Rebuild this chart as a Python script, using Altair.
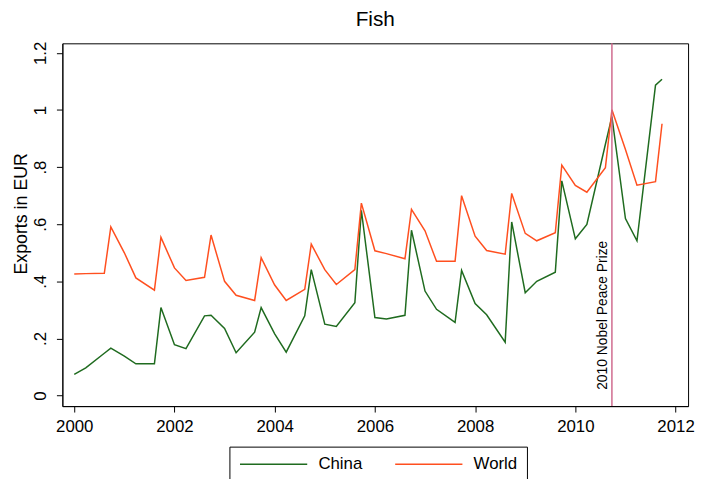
import altair as alt
import pandas as pd

# ---- data ----
years = list(range(2000, 2012))
quarter_offsets = [0.0, 0.23, 0.60, 0.73]  # position of the 4 observations inside each year

china = [
    0.074, 0.097, 0.148, 0.166,
    0.138, 0.111, 0.111, 0.308,
    0.178, 0.164, 0.279, 0.281,
    0.235, 0.150, 0.222, 0.308,
    0.216, 0.152, 0.279, 0.441,
    0.250, 0.242, 0.325, 0.649,
    0.273, 0.268, 0.281, 0.579,
    0.366, 0.302, 0.256, 0.438,
    0.322, 0.283, 0.187, 0.608,
    0.360, 0.400, 0.432, 0.752,
    0.549, 0.599, 0.880, 0.977,
    0.620, 0.542, 1.087, 1.108,
]

world = [
    0.426, 0.427, 0.428, 0.591,
    0.500, 0.412, 0.369, 0.554,
    0.447, 0.403, 0.414, 0.562,
    0.400, 0.351, 0.333, 0.483,
    0.387, 0.333, 0.372, 0.530,
    0.441, 0.389, 0.441, 0.674,
    0.507, 0.497, 0.479, 0.652,
    0.577, 0.470, 0.470, 0.700,
    0.558, 0.508, 0.495, 0.708,
    0.568, 0.542, 0.570, 0.807,
    0.736, 0.712, 0.798, 1.001,
    0.862, 0.737, 0.749, 0.952,
]

series_names = ["China", "World"]
series_colors = ["#1f6b1f", "#ff4f1f"]

event_year = 2010 + quarter_offsets[3]
event_label = "2010 Nobel Peace Prize"
event_label_y = 0.02

x_ticks = [2000, 2002, 2004, 2006, 2008, 2010, 2012]
y_ticks = [0, 0.2, 0.4, 0.6, 0.8, 1.0, 1.2]

# ---- build table ----
time = [y + o for y in years for o in quarter_offsets]
rows = []
for t, v in zip(time, china):
    rows.append({"time": t, "value": v, "series": "China"})
for t, v in zip(time, world):
    rows.append({"time": t, "value": v, "series": "World"})
df = pd.DataFrame(rows)

event_df = pd.DataFrame({"time": [event_year], "label": [event_label], "y": [event_label_y]})

FONT = "Liberation Sans"

x_scale = alt.Scale(domain=[1999.763, 2012.25], nice=False, zero=False)
y_scale = alt.Scale(domain=[-0.037, 1.2336], nice=False, zero=False)

x_axis = alt.Axis(
    values=x_ticks, format="d", title=None, grid=False,
    labelFontSize=17, labelColor="black", labelPadding=7,
    tickSize=6, tickColor="black", domainColor="black",
)
y_axis = alt.Axis(
    values=y_ticks, grid=False,
    labelExpr="datum.value == 0 ? '0' : (datum.value < 1 ? substring(format(datum.value, '.1f'), 1) : format(datum.value, '~g'))",
    labelAngle=270, labelAlign="center", labelBaseline="bottom",
    labelFontSize=17, labelColor="black", labelPadding=7,
    tickSize=6, tickColor="black", domainColor="black",
    title="Exports in EUR", titleFontSize=18, titleFontWeight="normal",
    titleColor="black", titleAngle=270, titleX=-41, titleY=172,
    titleAlign="center", titleBaseline="middle",
)

lines = alt.Chart(df).mark_line(strokeWidth=1.5).encode(
    x=alt.X("time:Q", scale=x_scale, axis=x_axis),
    y=alt.Y("value:Q", scale=y_scale, axis=y_axis),
    color=alt.Color(
        "series:N",
        scale=alt.Scale(domain=series_names, range=series_colors),
        legend=alt.Legend(
            title=None, orient="none", legendX=169, legendY=408,
            direction="horizontal", strokeColor="black", padding=9,
            symbolType="M-1,0H9", symbolSize=185, symbolStrokeWidth=1.5,
            labelFontSize=17, labelOffset=64, columnPadding=29,
            labelColor="black",
        ),
    ),
    detail="series:N",
)

rule = alt.Chart(event_df).mark_rule(color="#cf6a8e", strokeWidth=1.5).encode(
    x=alt.X("time:Q", scale=x_scale),
)

label = alt.Chart(event_df).mark_text(
    angle=270, align="left", baseline="bottom", fontSize=14, dy=-2,
    color="black", font=FONT,
).encode(
    x=alt.X("time:Q", scale=x_scale),
    y=alt.Y("y:Q", scale=y_scale),
    text="label:N",
)

chart = alt.layer(lines, rule, label).properties(
    width=633, height=367,
    title=alt.TitleParams("Fish", fontSize=21, fontWeight="normal", color="black", offset=11, anchor="middle"),
    autosize=alt.AutoSizeParams(type="none"),
    padding={"left": 55, "top": 33, "right": 7, "bottom": 71},
).configure(
    font=FONT,
).configure_view(
    stroke="black", strokeWidth=1,
).configure_axis(
    labelFont=FONT, titleFont=FONT,
).configure_legend(
    labelFont=FONT,
)

chart.save("out.html", embed_options={"renderer": "svg", "actions": False})
